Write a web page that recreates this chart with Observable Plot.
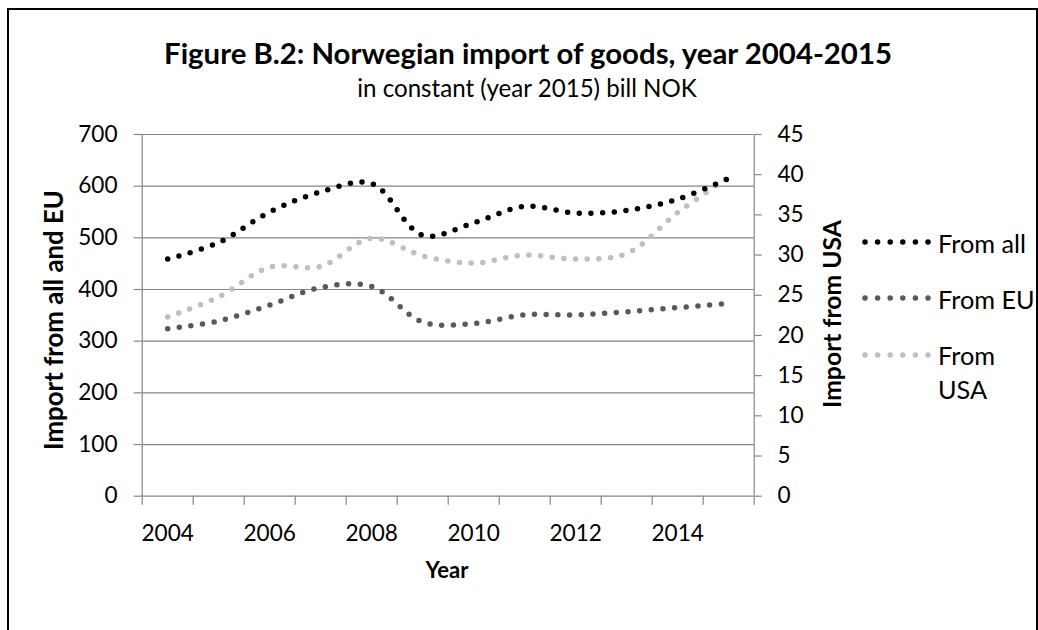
<!DOCTYPE html>
<html>
<head>
<meta charset="utf-8">
<script src="https://cdn.jsdelivr.net/npm/d3@7"></script>
<script src="https://cdn.jsdelivr.net/npm/@observablehq/plot@0.6"></script>
<style>
  body { margin: 0; background: white; }
  #wrap { position: relative; width: 1038px; height: 630px; overflow: hidden; background: white; font-family: Lato, "Open Sans", sans-serif; color: #000; }
  .abs { position: absolute; white-space: nowrap; line-height: 1; }
  .c { transform: translate(-50%, -50%); }
  .rot { transform: translate(-50%, -50%) rotate(-90deg); }
  .lg { position: absolute; }
</style>
</head>
<body>
<div id="wrap">
  <div style="position:absolute;left:7px;top:8px;width:1027px;height:700px;border:2px solid #000;"></div>
  <div id="chart" style="position:absolute;left:0;top:0;"></div>
  <div id="title" class="abs c" style="left:528px;top:53px;font-weight:bold;">Figure B.2: Norwegian import of goods, year 2004-2015</div>
  <div id="subtitle" class="abs c" style="left:527px;top:88px;">in constant (year 2015) bill NOK</div>
  <div id="ylab" class="abs rot" style="left:54px;top:320px;font-weight:bold;">Import from all and EU</div>
  <div id="ylab2" class="abs rot" style="left:832px;top:314px;font-weight:bold;">Import from USA</div>
  <div id="xlab" class="abs c" style="left:447px;top:570px;font-weight:bold;">Year</div>
  <div id="legend"></div>
</div>
<script>
// ---- data ----
const years = [2004, 2005, 2006, 2007, 2008, 2009, 2010, 2011, 2012, 2013, 2014, 2015];
const fromAll = [459, 491, 550, 589, 605, 505, 529, 561, 548, 553, 575, 615];
const fromEU  = [324, 339, 370, 404, 406, 337, 334, 351, 351, 357, 365, 373];
const fromUSA = [22.3, 24.8, 28.5, 28.6, 32.1, 29.9, 29.0, 30.0, 29.5, 30.2, 35.3, 39.7];
const seriesNames = ["From all", "From EU", "From USA"];
const seriesColors = ["#000000", "#595959", "#bfbfbf"];
const leftTicks = [0, 100, 200, 300, 400, 500, 600, 700];
const rightTicks = [0, 5, 10, 15, 20, 25, 30, 35, 40, 45];
const xLabelYears = [2004, 2006, 2008, 2010, 2012, 2014];
const leftMax = 700, rightMax = 45;

// ---- helpers ----
const FONT = "Lato";
const cv = document.createElement("canvas").getContext("2d");
function fit(el, target, weight) {
  cv.font = `${weight || "normal"} 100px ${FONT}`;
  const w = cv.measureText(el.textContent).width;
  el.style.fontSize = (100 * target / w).toFixed(2) + "px";
}
cv.font = `normal 100px ${FONT}`;
const digitW = cv.measureText("0000").width / 4;
const tickFont = 100 * 13.1 / digitW;

const toLeft = v => v * leftMax / rightMax;
const rows = (vals, conv) => years.map((year, i) => ({year, v: conv ? conv(vals[i]) : vals[i]}));
const boundaries = d3.range(years[0] - 0.5, years[years.length - 1] + 1, 1);

const gray = "#868686";
const dotStyle = {strokeWidth: 5.5, strokeDasharray: "0 11.7", strokeLinecap: "round", curve: "catmull-rom"};

const chart = Plot.plot({
  width: 1038,
  height: 630,
  marginLeft: 141.7,
  marginRight: 284.3,
  marginTop: 134,
  marginBottom: 134.3,
  style: {fontFamily: FONT, fontSize: tickFont + "px", color: "#000", background: "transparent", overflow: "visible"},
  x: {domain: [years[0] - 0.5, years[years.length - 1] + 0.5]},
  y: {domain: [0, leftMax]},
  marks: [
    Plot.ruleY(leftTicks.slice(1), {stroke: gray, strokeWidth: 1.2}),
    Plot.ruleY([0], {stroke: gray, strokeWidth: 1.2}),
    Plot.ruleX([boundaries[0], boundaries[boundaries.length - 1]], {stroke: gray, strokeWidth: 1.2}),
    Plot.axisY({ticks: leftTicks, tickSize: 8, tickPadding: 16.7, stroke: gray, fill: "#000", strokeWidth: 1.2, label: null, tickFormat: d => String(d)}),
    Plot.axisY({anchor: "right", ticks: rightTicks.map(toLeft), tickSize: 7, tickPadding: 16.3, stroke: gray, fill: "#000", strokeWidth: 1.2, label: null,
      tickFormat: d => String(Math.round(d * rightMax / leftMax))}),
    Plot.axisX({ticks: boundaries, tickSize: 9, tickPadding: 0, stroke: gray, strokeWidth: 1.2, label: null, tickFormat: () => ""}),
    Plot.axisX({ticks: xLabelYears, tickSize: 0, tickPadding: 28.4, fill: "#000", label: null, tickFormat: d => String(d)}),
    Plot.line(rows(fromUSA, toLeft), {x: "year", y: "v", stroke: seriesColors[2], ...dotStyle}),
    Plot.line(rows(fromEU), {x: "year", y: "v", stroke: seriesColors[1], ...dotStyle}),
    Plot.line(rows(fromAll), {x: "year", y: "v", stroke: seriesColors[0], ...dotStyle})
  ]
});
document.getElementById("chart").appendChild(chart);

// ---- texts ----
fit(document.getElementById("title"), 730, "bold");
fit(document.getElementById("subtitle"), 340);
fit(document.getElementById("ylab"), 260, "bold");
fit(document.getElementById("ylab2"), 188, "bold");
fit(document.getElementById("xlab"), 43, "bold");

// ---- legend ----
const legend = document.getElementById("legend");
const legendY = [242, 298, 355];
seriesNames.forEach((name, i) => {
  const svgNS = "http://www.w3.org/2000/svg";
  const s = document.createElementNS(svgNS, "svg");
  s.setAttribute("width", 74); s.setAttribute("height", 12);
  s.style.position = "absolute"; s.style.left = "860px"; s.style.top = (legendY[i] - 6) + "px";
  const l = document.createElementNS(svgNS, "line");
  l.setAttribute("x1", 5); l.setAttribute("x2", 68.5); l.setAttribute("y1", 6); l.setAttribute("y2", 6);
  l.setAttribute("stroke", seriesColors[i]); l.setAttribute("stroke-width", 5.5);
  l.setAttribute("stroke-dasharray", "0 12.6"); l.setAttribute("stroke-linecap", "round");
  s.appendChild(l); legend.appendChild(s);
  const t = document.createElement("div");
  t.className = "abs";
  t.style.left = "938px";
  t.style.fontSize = "22.5px";
  if (i === 2) {
    t.innerHTML = "From<br>USA";
    t.style.lineHeight = "34px";
    t.style.top = (legendY[i] - 17) + "px";
  } else {
    t.textContent = name;
    t.style.top = (legendY[i] - 11) + "px";
  }
  legend.appendChild(t);
});
const fa = legend.querySelectorAll("div")[0];
cv.font = `normal 100px ${FONT}`;
const lsz = 100 * 88 / cv.measureText("From all").width;
legend.querySelectorAll("div").forEach(d => { d.style.fontSize = lsz.toFixed(2) + "px"; });
</script>
</body>
</html>
